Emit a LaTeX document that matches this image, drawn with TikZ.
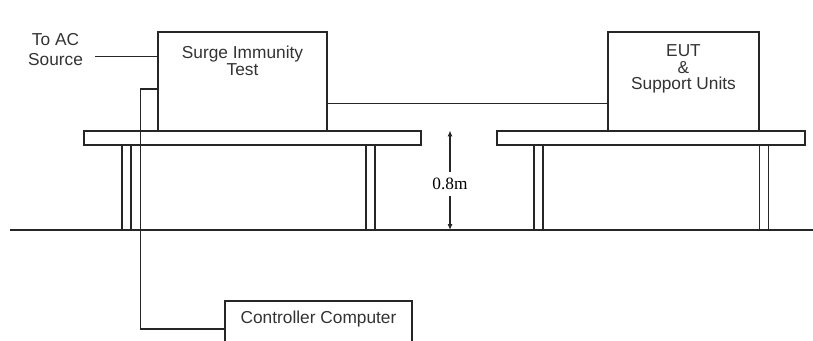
\documentclass[tikz,border=0pt]{standalone}
\usepackage{fontspec}
\setmainfont{Liberation Sans}
\newfontfamily\timesfont{Liberation Serif}
\usepackage{tikz}
\usetikzlibrary{arrows.meta,positioning}
\colorlet{ink}{black!85}

\begin{document}
\begin{tikzpicture}[x=1pt,y=-1pt,font=\fontsize{17.3}{18}\selectfont,line width=1.1pt,draw=ink]
    \tikzstyle{unit}=[draw=ink,rectangle,inner sep=0pt]
    \tikzstyle{board}=[draw=ink,rectangle,inner sep=0pt,minimum height=14pt]
    \tikzstyle{leg}=[draw=ink,rectangle,inner sep=0pt,minimum width=9pt,minimum height=85pt]
    \tikzstyle{captxt}=[align=center,inner sep=0pt,anchor=north,text=black!80]
    \tikzstyle{wire}=[draw=ink,line width=1.1pt]
    \useasboundingbox (0,0) rectangle (813,340);
    \clip (0,0) rectangle (813,340);
    % tables and floor
    \node[board,minimum width=337pt] (tabL) at (252.5,138) {};
    \node[board,minimum width=308pt] (tabR) at (651,138) {};
    \foreach \x/\n in {126.5/a,370.5/b,538.5/c,764/d}
      \node[leg] (leg\n) at (\x,187.5) {};
    \coordinate (floorL) at (10,230);
    \coordinate (floorR) at (813,230);
    \draw[wire] (floorL) -- (floorR);
    % equipment
    \node[unit,fill=white,minimum width=169pt,minimum height=99pt] (surge) at (242.5,81.5) {};
    \node[unit,fill=white,minimum width=151pt,minimum height=99pt] (eut) at (683.5,81.5) {};
    \node[unit,fill=white,minimum width=187pt,minimum height=56pt] (ctrl) at (318.5,329) {};
    \node[captxt,font=\fontsize{17.3}{17.8}\selectfont,below=13.5pt of surge.north] (surgetxt) {Surge Immunity\\Test};
    \node[captxt,font=\fontsize{17.3}{16.2}\selectfont,below=13pt of eut.north] (euttxt) {EUT\\\&\\Support Units};
    \node[captxt,below=9.7pt of ctrl.north] (ctrltxt) {Controller Computer};
    \node[captxt,font=\fontsize{17.3}{20}\selectfont] (acsrc) at (55.5,33.3) {To AC\\Source};
    % cables
    \coordinate (acend) at (95,56.7);
    \draw[wire] (acend) -- (acend -| surge.west);
    \draw[wire] ([yshift=-21.8pt]surge.east) -- ([yshift=-21.8pt]surge.east -| eut.west);
    \draw[wire] ([yshift=-7.5pt]surge.west) -| ([xshift=-84pt]ctrl.west) -- (ctrl.west);
    % height mark
    \node[font=\timesfont\fontsize{17.3}{18}\selectfont,inner xsep=0pt,inner ysep=6pt] (hgt) at (450,184) {0.8m};
    \draw[line width=1.1pt,-{Latex[length=6pt,width=5pt]}] (hgt.north) -- (hgt.north |- tabL.north);
    \draw[line width=1.1pt,-{Latex[length=6pt,width=5pt]}] (hgt.south) -- (hgt.south |- floorL);
  \end{tikzpicture}
\end{document}
